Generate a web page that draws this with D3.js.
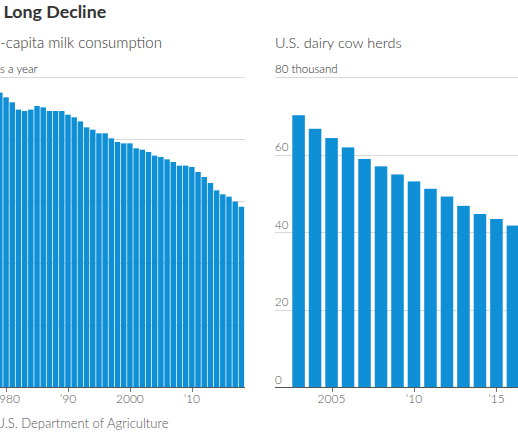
<!DOCTYPE html>
<html><head><meta charset="utf-8">
<script src="https://cdn.jsdelivr.net/npm/d3@7"></script>
<style>
body{margin:0;background:#fff;overflow:hidden}
svg{display:block}
text{font-family:Lato,"Noto Sans",sans-serif}
</style>
</head><body>
<svg id="c" width="518" height="432"></svg>
<script>
// ---- data (texts as visible in the cropped reference) ----
const chartTitle = "Long Decline";
const milkTitle = "-capita milk consumption";
const milkUnit = "s a year";
const milkYears = [1979,1980,1981,1982,1983,1984,1985,1986,1987,1988,1989,1990,1991,1992,1993,1994,1995,1996,1997,1998,1999,2000,2001,2002,2003,2004,2005,2006,2007,2008,2009,2010,2011,2012,2013,2014,2015,2016,2017,2018];
const milkValues = [237.4,233.6,229.6,223.7,222.6,223.7,226.6,225.5,222.6,222.6,222.6,219.6,217.5,214.2,209.4,207.5,204.6,204.6,200.5,197.6,196.5,196.5,192.5,191.4,189.5,186.6,185.5,183.6,181.5,178.5,178.5,177.4,173.4,169.4,164.5,158.6,155.4,153.5,149.5,145.4];
const milkGrid = [0,50,100,150,200,250];
const milkTicks = [1980,1990,2000,2010];
const milkTickLabels = ["1980","\u201990","2000","\u201910"];

const herdTitle = "U.S. dairy cow herds";
const herdUnit = "thousand";
const herdYears = [2003,2004,2005,2006,2007,2008,2009,2010,2011,2012,2013,2014,2015,2016];
const herdValues = [70.2,66.7,64.3,61.9,58.9,57.0,54.9,53.1,51.2,49.2,46.8,44.7,43.4,41.7];
const herdGrid = [0,20,40,60,80];
const herdTicks = [2005,2010,2015];
const herdTickLabels = ["2005","\u201910","\u201915"];

const sourceText = "U.S. Department of Agriculture";

// ---- layout ----
const svg = d3.select("#c");
const BLUE = "#0e8fd6";
const baseY = 387;

// title + left subtitle
svg.append("text").attr("x", 3.5).attr("y", 18).attr("font-size", 17.8).attr("font-weight", 700).attr("fill", "#333").text(chartTitle);
svg.append("text").attr("x", 0.3).attr("y", 48).attr("font-size", 15).attr("font-weight", 300).attr("fill", "#333").text(milkTitle);

// ---- left chart ----
const yL = d3.scaleLinear().domain([0, 250]).range([baseY, 77]);
svg.append("text").attr("x", 0).attr("y", 72.5).attr("font-size", 11.5).attr("font-weight", 300).attr("fill", "#222").text(milkUnit);
const gl = svg.append("g");
gl.selectAll("line").data(milkGrid.slice(1)).join("line")
  .attr("x1", 0).attr("x2", 245)
  .attr("y1", d => Math.round(yL(d)) + 0.5).attr("y2", d => Math.round(yL(d)) + 0.5)
  .attr("stroke", "#d9d9d9");

const xStepL = 6.193, padL = 0.12;
const x0L = -2.86 - padL/2*xStepL;
const xL = d3.scaleBand().domain(milkYears).range([x0L, x0L + milkYears.length*xStepL]).paddingInner(padL).paddingOuter(padL/2);
svg.append("g").selectAll("rect").data(milkYears).join("rect")
  .attr("x", d => xL(d)).attr("width", xL.bandwidth())
  .attr("y", (d,i) => yL(milkValues[i])).attr("height", (d,i) => baseY - yL(milkValues[i]))
  .attr("fill", BLUE);
svg.append("line").attr("x1", 0).attr("x2", 245).attr("y1", baseY+0.5).attr("y2", baseY+0.5).attr("stroke", "#555");
const axL = svg.append("g");
axL.selectAll("line").data(milkTicks).join("line")
  .attr("x1", d => Math.round(xL(d) + xL.bandwidth()/2)+0.5).attr("x2", d => Math.round(xL(d) + xL.bandwidth()/2)+0.5)
  .attr("y1", baseY+1).attr("y2", baseY+5).attr("stroke", "#777");
axL.selectAll("text").data(milkTicks).join("text")
  .attr("x", d => xL(d) + xL.bandwidth()/2).attr("y", 403).attr("text-anchor", "middle")
  .attr("font-size", 12).attr("font-weight", 300).attr("fill", "#555").text((d,i) => milkTickLabels[i]);

// ---- right chart ----
const R = 275;
svg.append("text").attr("x", R).attr("y", 47.5).attr("font-size", 14.5).attr("font-weight", 300).attr("fill", "#333").text(herdTitle);
const yR = d3.scaleLinear().domain([0, 80]).range([baseY, 77.3]);
const gr = svg.append("g");
gr.selectAll("line").data(herdGrid.slice(1)).join("line")
  .attr("x1", R).attr("x2", 540)
  .attr("y1", d => Math.round(yR(d)) + 0.5).attr("y2", d => Math.round(yR(d)) + 0.5)
  .attr("stroke", "#d9d9d9");
gr.selectAll("text").data(herdGrid).join("text")
  .attr("x", R).attr("y", (d,i) => i === herdGrid.length-1 ? yR(d) - 4.8 : yR(d) - 3.5)
  .attr("font-size", 11.5).attr("font-weight", 300).attr("fill", (d,i) => i === herdGrid.length-1 ? "#222" : "#555")
  .text((d,i) => i === herdGrid.length-1 ? d + " " + herdUnit : d);

const xStepR = 16.49, padR = 0.24;
const x0R = 292.3 - padR/2*xStepR;
const xR = d3.scaleBand().domain(herdYears).range([x0R, x0R + herdYears.length*xStepR]).paddingInner(padR).paddingOuter(padR/2);
svg.append("g").selectAll("rect").data(herdYears).join("rect")
  .attr("x", d => xR(d)).attr("width", xR.bandwidth())
  .attr("y", (d,i) => yR(herdValues[i])).attr("height", (d,i) => baseY - yR(herdValues[i]))
  .attr("fill", BLUE);
svg.append("line").attr("x1", R).attr("x2", 540).attr("y1", baseY+0.5).attr("y2", baseY+0.5).attr("stroke", "#555");
const axR = svg.append("g");
axR.selectAll("line").data(herdTicks).join("line")
  .attr("x1", d => Math.round(xR(d) + xR.bandwidth()/2)+0.5).attr("x2", d => Math.round(xR(d) + xR.bandwidth()/2)+0.5)
  .attr("y1", baseY+1).attr("y2", baseY+5).attr("stroke", "#777");
axR.selectAll("text").data(herdTicks).join("text")
  .attr("x", d => xR(d) + xR.bandwidth()/2).attr("y", 403).attr("text-anchor", "middle")
  .attr("font-size", 12).attr("font-weight", 300).attr("fill", "#555").text((d,i) => herdTickLabels[i]);

// source
svg.append("text").attr("x", -4.5).attr("y", 428).attr("font-size", 13).attr("font-weight", 300).attr("fill", "#555").text(sourceText);
</script>
</body></html>
